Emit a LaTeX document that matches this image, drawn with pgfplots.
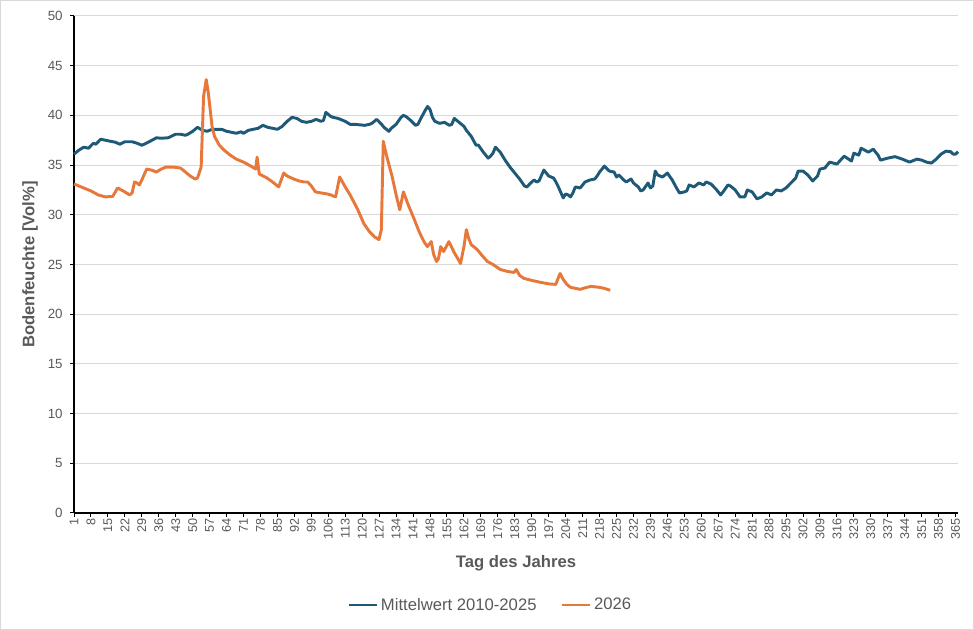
\documentclass[border=0pt]{standalone}
\usepackage{fontspec}
\setmainfont{Liberation Sans}
\usepackage{pgfplots}
\pgfplotsset{compat=1.18}
\definecolor{mw}{HTML}{1E5A78}
\definecolor{yr}{HTML}{E8773A}
\definecolor{txt}{HTML}{595959}
\definecolor{grd}{HTML}{D9D9D9}
\begin{document}
\begin{tikzpicture}
\useasboundingbox (0,0) rectangle (730.5pt,472.5pt);
\draw[grd, line width=0.75pt] (0.4pt,0.4pt) rectangle (730.1pt,472.1pt);
\begin{axis}[
  at={(55.5pt,87.75pt)}, anchor=south west,
  scale only axis, width=663pt, height=372.75pt,
  xmin=1, xmax=366, ymin=0, ymax=50,
  axis x line*=bottom, axis y line*=left,
  axis line style={black, line width=0.8pt},
  ytick={0,5,...,50}, xtick={1,8,...,365},
  ymajorgrids, grid style={grd, line width=0.75pt},
  tick align=outside, major tick length=3pt,
  tick style={black, line width=0.75pt},
  /pgf/number format/assume math mode=true,
  yticklabel style={font=\fontsize{10}{12}\selectfont, text=txt, xshift=-2pt},
  xticklabel style={font=\fontsize{9.5}{11}\selectfont, text=txt, rotate=90, anchor=east, inner sep=1pt},
  xlabel={Tag des Jahres}, ylabel={Bodenfeuchte [Vol\%]},
  every axis x label/.style={at={(axis description cs:0.5,-0.1006)}, anchor=center,
    font=\bfseries\fontsize{12.5}{15}\selectfont, text=txt},
  every axis y label/.style={at={(axis description cs:-0.0498,0.5)}, anchor=center, rotate=90,
    font=\bfseries\fontsize{12.5}{15}\selectfont, text=txt},
  legend style={at={(axis description cs:0.4713,-0.1851)}, anchor=center, draw=none, fill=none,
    legend columns=2, font=\fontsize{12.5}{15}\selectfont, text=txt,
    /tikz/every even column/.append style={column sep=16pt}},
  legend image code/.code={\draw[#1, line width=2.2pt] (0pt,0pt) -- (21pt,0pt);},
  clip=false,
]
\addplot[mw, line width=2.2pt, line join=round] coordinates {
(1,36.1)(3,36.5)(5,36.8)(7,36.7)(9,37.2)(10,37.1)(12,37.6)(14,37.5)(16,37.4)(18,37.3)
(20,37.1)(22,37.35)(25,37.35)(27,37.2)(29,37.0)(30,37.1)(32,37.35)(34,37.6)(35,37.75)(37,37.7)
(40,37.75)(42,38.0)(43,38.1)(45,38.1)(47,38.0)(48,38.1)(50,38.4)(52,38.8)(54,38.5)(56,38.4)
(58,38.6)(60,38.6)(62,38.6)(64,38.4)(66,38.3)(68,38.2)(70,38.35)(71,38.2)(73,38.5)(75,38.6)
(77,38.7)(79,39.0)(81,38.8)(83,38.7)(85,38.6)(87,38.9)(89,39.4)(91,39.8)(93,39.7)(95,39.4)
(97,39.3)(99,39.4)(101,39.6)(103,39.4)(104,39.5)(105,40.3)(107,39.9)(108,39.8)(110,39.7)(112,39.5)
(113,39.4)(115,39.1)(117,39.1)(119,39.05)(121,39.0)(123,39.1)(124,39.2)(126,39.6)(128,39.1)(129,38.8)
(131,38.4)(132,38.7)(134,39.1)(136,39.8)(137,40.0)(138,39.9)(140,39.5)(142,39.0)(143,39.1)(144,39.6)
(146,40.5)(147,40.9)(148,40.6)(149,39.8)(150,39.4)(152,39.2)(154,39.3)(156,39.0)(157,39.1)(158,39.7)
(160,39.3)(162,38.9)(163,38.5)(165,37.9)(167,37.0)(168,37.0)(170,36.3)(172,35.7)(173,35.9)(174,36.2)
(175,36.8)(177,36.3)(179,35.5)(181,34.8)(183,34.2)(185,33.6)(187,32.9)(188,32.8)(190,33.3)(191,33.5)
(192,33.3)(193,33.4)(195,34.5)(197,33.9)(199,33.7)(200,33.3)(201,32.8)(203,31.7)(204,32.1)(205,32.0)
(206,31.8)(207,32.2)(208,32.8)(210,32.7)(212,33.3)(214,33.5)(216,33.6)(217,33.9)(218,34.3)(220,34.9)
(222,34.4)(224,34.3)(225,33.8)(226,34.0)(228,33.5)(229,33.3)(231,33.6)(232,33.2)(234,32.8)(235,32.4)
(236,32.5)(238,33.2)(239,32.7)(240,32.9)(241,34.4)(242,34.0)(244,33.8)(246,34.2)(248,33.5)(250,32.6)
(251,32.2)(253,32.3)(254,32.4)(255,33.0)(257,32.8)(259,33.2)(261,33.0)(262,33.3)(264,33.1)(266,32.6)
(268,32.0)(269,32.3)(271,33.0)(272,32.9)(274,32.5)(276,31.8)(278,31.8)(279,32.5)(281,32.3)(283,31.6)
(285,31.8)(287,32.2)(289,32.0)(291,32.5)(293,32.4)(295,32.7)(297,33.2)(299,33.7)(300,34.4)(302,34.4)
(304,34.0)(306,33.4)(308,33.9)(309,34.6)(311,34.7)(313,35.3)(316,35.1)(319,35.9)(322,35.4)(323,36.2)
(325,36.0)(326,36.7)(329,36.3)(331,36.6)(333,36.0)(334,35.5)(337,35.7)(340,35.85)(343,35.6)(346,35.3)
(349,35.6)(351,35.5)(353,35.3)(355,35.2)(357,35.6)(359,36.1)(361,36.4)(363,36.35)(364,36.1)(365,36.1)(366,36.35)
};
\addlegendentry{Mittelwert 2010-2025}
\addplot[yr, line width=2.2pt, line join=round] coordinates {
(1,33.1)(4,32.8)(8,32.4)(11,32.0)(14,31.8)(17,31.85)(19,32.7)(22,32.3)(24,32.0)(25,32.2)
(26,33.3)(27,33.2)(28,33.0)(29,33.5)(31,34.6)(33,34.5)(35,34.3)(37,34.6)(39,34.8)(42,34.8)
(45,34.7)(47,34.3)(49,33.9)(51,33.6)(52,33.7)(53.5,34.8)(54.5,41.9)(55.6,43.6)(56.5,42.2)(58,38.9)
(59,37.9)(61,37.0)(63,36.5)(65.5,36.0)(68,35.6)(71,35.3)(74,34.9)(76,34.6)(76.6,35.8)(77.5,34.1)
(80.7,33.7)(83,33.3)(85.5,32.8)(87.6,34.2)(89,33.9)(91.7,33.6)(94,33.4)(96,33.3)(97.5,33.3)(99,32.9)
(100.7,32.3)(103,32.2)(105.5,32.1)(107,32.0)(109,31.8)(110.7,33.8)(113,32.8)(115,32.0)(118,30.6)(120.7,29.1)
(123,28.3)(125,27.8)(126.9,27.5)(127.9,28.5)(128.7,37.4)(130,36.0)(132.4,33.8)(134,32.0)(135.5,30.5)(137,32.3)
(139,31.0)(141.4,29.6)(143.5,28.3)(145.5,27.3)(146.9,26.8)(148.5,27.3)(149.5,26.0)(150.7,25.3)(151.5,25.6)(152.4,26.8)
(153.6,26.3)(155.8,27.3)(158,26.2)(160.6,25.1)(162,26.8)(163,28.5)(164,27.6)(165,27.0)(167.5,26.5)(169.5,25.9)
(171.7,25.3)(174,25.0)(177,24.5)(180,24.3)(182.7,24.2)(183.6,24.5)(185,23.9)(186.8,23.6)(190,23.4)(193.7,23.2)
(197,23.05)(199.9,23.0)(201.7,24.1)(203,23.5)(204.5,23.0)(206,22.7)(208,22.6)(210,22.5)(212,22.65)(214.4,22.8)
(218,22.7)(220,22.6)(222.4,22.4)
};
\addlegendentry{2026}
\end{axis}
\end{tikzpicture}
\end{document}
